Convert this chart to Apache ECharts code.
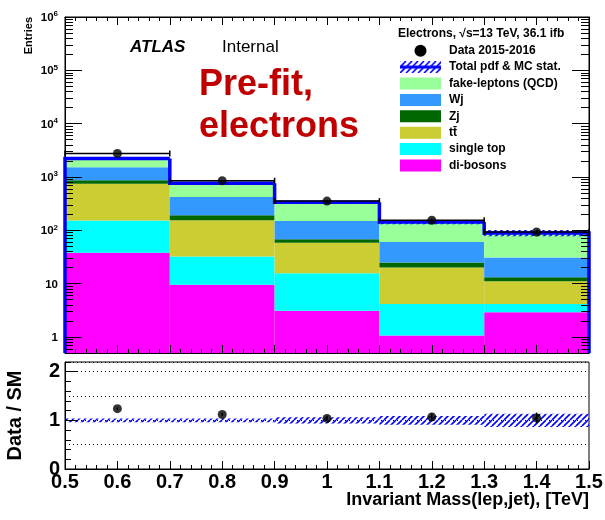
<!DOCTYPE html>
<html><head><meta charset="utf-8">
<script src="https://cdn.jsdelivr.net/npm/echarts@6/dist/echarts.min.js"></script>
<style>html,body{margin:0;padding:0;background:#fff}#c{width:605px;height:520px}</style>
</head><body><div id="c"></div>
<script>
// ---- data ----
const binEdges = [0.5, 0.7, 0.9, 1.1, 1.3, 1.5];
const binCenters = [0.6, 0.8, 1.0, 1.2, 1.4];
const diBosons = [38, 9.5, 3.1, 1.06, 2.9];
const singleTop = [114, 22.7, 12.6, 3.1, 1.24];
const ttbar = [594, 122, 43, 16, 6.9];
const zJets = [125, 37, 9, 4.8, 2.1];
const wJets = [654, 228, 81, 35.5, 17.8];
const fakeLeptons = [690, 340, 187, 82, 58];
const dataCounts = [2750, 850, 353, 154, 93];
const dataErr = [52, 29, 19, 12.4, 9.6];
const ratioValues = [1.24, 1.12, 1.04, 1.07, 1.05];
const ratioErr = [0.025, 0.035, 0.055, 0.08, 0.11];
const bandRelErr = [0.04, 0.04, 0.065, 0.09, 0.135];
const xTickLabels = [0.5, 0.6, 0.7, 0.8, 0.9, 1.0, 1.1, 1.2, 1.3, 1.4, 1.5];
const yTickLabels = [1, 10, 100, 1000, 10000, 100000, 1000000];
const ratioTickLabels = [0, 1, 2];

const YMIN = 0.5, YMAX = 1e6;
const FONT = "'Liberation Sans', Arial, Helvetica, sans-serif";

const components = [
  { name: 'di-bosons', values: diBosons, color: '#ff00ff' },
  { name: 'single top', values: singleTop, color: '#00ffff' },
  { name: 't\u0074\u0304', values: ttbar, color: '#cccc33' },
  { name: 'Zj', values: zJets, color: '#006600' },
  { name: 'Wj', values: wJets, color: '#3399ff' },
  { name: 'fake-leptons (QCD)', values: fakeLeptons, color: '#99ff99' }
];

// hatch pattern
function makeHatch(w, h, step, line) {
  const c = document.createElement('canvas');
  c.width = w; c.height = h;
  const g = c.getContext('2d');
  g.strokeStyle = '#0000ff'; g.lineWidth = 1.6;
  g.beginPath();
  for (let x = -h; x < w + h; x += step) { g.moveTo(x, h); g.lineTo(x + h, 0); }
  g.stroke();
  if (line) { g.strokeStyle = '#0000ff'; g.lineWidth = 3; g.beginPath(); g.moveTo(0, h / 2); g.lineTo(w, h / 2); g.stroke(); }
  return c;
}
const hatchCanvas = makeHatch(6, 6, 6, false);
const legendTotalIcon = makeHatch(41, 12, 6, true).toDataURL();

function rectItem(fill) {
  return function (params, api) {
    const p0 = api.coord([api.value(0), api.value(3)]);
    const p1 = api.coord([api.value(1), api.value(2)]);
    return { type: 'rect', shape: { x: p0[0], y: p0[1], width: p1[0] - p0[0], height: p1[1] - p0[1] }, style: { fill: fill } };
  };
}

const series = [];
let base = binCenters.map(() => 0);
components.forEach(comp => {
  const rows = comp.values.map((v, i) => [binEdges[i], binEdges[i + 1], Math.max(base[i], YMIN), base[i] + v]);
  base = base.map((b, i) => b + comp.values[i]);
  series.push({
    type: 'custom', name: comp.name, xAxisIndex: 0, yAxisIndex: 0, z: 1,
    itemStyle: { color: comp.color }, encode: { x: [0, 1], y: [2, 3] },
    renderItem: rectItem(comp.color), data: rows
  });
});
const totals = base;

// main hatched band
series.push({
  type: 'custom', name: 'Total pdf & MC stat.', xAxisIndex: 0, yAxisIndex: 0, z: 2,
  itemStyle: { color: '#0000ff' }, encode: { x: [0, 1], y: [2, 3] },
  renderItem: rectItem({ image: hatchCanvas, repeat: 'repeat' }),
  data: totals.map((t, i) => [binEdges[i], binEdges[i + 1], t * (1 - bandRelErr[i]), t * (1 + bandRelErr[i])])
});
// total outline
series.push({
  type: 'custom', name: 'Total pdf & MC stat.', xAxisIndex: 0, yAxisIndex: 0, z: 3,
  itemStyle: { color: '#0000ff' }, encode: { x: [0, 1], y: [2, 3] },
  renderItem: function (params, api) {
    const pts = [api.coord([api.value(0), api.value(3)]), api.coord([api.value(0), api.value(2)]), api.coord([api.value(1), api.value(2)])];
    if (params.dataIndex === totals.length - 1) pts.push(api.coord([api.value(1), YMIN]));
    return { type: 'polyline', shape: { points: pts }, style: { stroke: '#0000ff', lineWidth: 3.5, fill: null } };
  },
  data: totals.map((t, i) => [binEdges[i], binEdges[i + 1], t, i === 0 ? YMIN : totals[i - 1]])
});
// data error bars (main)
series.push({
  type: 'custom', name: 'Data 2015-2016', xAxisIndex: 0, yAxisIndex: 0, z: 4,
  itemStyle: { color: '#000' }, encode: { x: 0, y: 1 },
  renderItem: function (params, api) {
    const y = api.value(1);
    const l = api.coord([api.value(4), y]), r = api.coord([api.value(5), y]);
    const lo = api.coord([api.value(0), api.value(2)]), hi = api.coord([api.value(0), api.value(3)]);
    const st = { stroke: '#000', lineWidth: 1.5 };
    return { type: 'group', children: [
      { type: 'line', shape: { x1: l[0], y1: l[1], x2: r[0], y2: r[1] }, style: st },
      { type: 'line', shape: { x1: l[0], y1: l[1] - 3, x2: l[0], y2: l[1] + 3 }, style: st },
      { type: 'line', shape: { x1: r[0], y1: r[1] - 3, x2: r[0], y2: r[1] + 3 }, style: st },
      { type: 'line', shape: { x1: lo[0], y1: lo[1], x2: hi[0], y2: hi[1] }, style: st }
    ] };
  },
  data: dataCounts.map((d, i) => [binCenters[i], d, d - dataErr[i], d + dataErr[i], binEdges[i], binEdges[i + 1]])
});
series.push({
  type: 'scatter', name: 'Data 2015-2016', xAxisIndex: 0, yAxisIndex: 0, z: 5,
  symbol: 'circle', symbolSize: 9, itemStyle: { color: '#000' },
  data: dataCounts.map((d, i) => [binCenters[i], d])
});
// ratio band
series.push({
  type: 'custom', name: 'SM uncertainty', xAxisIndex: 1, yAxisIndex: 1, z: 2,
  encode: { x: [0, 1], y: [2, 3] },
  renderItem: rectItem({ image: hatchCanvas, repeat: 'repeat' }),
  data: bandRelErr.map((e, i) => [binEdges[i], binEdges[i + 1], 1 - e, 1 + e])
});
series.push({
  type: 'custom', name: 'Data / SM', xAxisIndex: 1, yAxisIndex: 1, z: 4,
  encode: { x: 0, y: 1 },
  renderItem: function (params, api) {
    const lo = api.coord([api.value(0), api.value(2)]), hi = api.coord([api.value(0), api.value(3)]);
    return { type: 'line', shape: { x1: lo[0], y1: lo[1], x2: hi[0], y2: hi[1] }, style: { stroke: '#000', lineWidth: 1.5 } };
  },
  data: ratioValues.map((r, i) => [binCenters[i], r, r - ratioErr[i], r + ratioErr[i]])
});
series.push({
  type: 'scatter', name: 'Data / SM', xAxisIndex: 1, yAxisIndex: 1, z: 5,
  symbol: 'circle', symbolSize: 9, itemStyle: { color: '#000' },
  data: ratioValues.map((r, i) => [binCenters[i], r])
});

const minorLog = [];
for (let k = -1; k <= 5; k++) for (let m = 2; m <= 9; m++) { const v = m * Math.pow(10, k); if (v > YMIN && v < YMAX) minorLog.push(v); }

const blk = { color: '#000', width: 1 };
function xAx(grid, pos, labels) {
  return {
    type: 'value', gridIndex: grid, position: pos, min: 0.5, max: 1.5, interval: 0.1, z: 10,
    axisLine: { show: true, onZero: false, lineStyle: blk },
    axisTick: { show: true, inside: true, length: 8, lineStyle: blk },
    minorTick: { show: true, splitNumber: 5, length: 4, lineStyle: blk },
    splitLine: { show: false },
    axisLabel: labels ? { show: true, customValues: xTickLabels, fontSize: 20, fontWeight: 'bold', color: '#000', fontFamily: FONT, margin: 3,
      formatter: v => String(Math.round(v * 10) / 10) } : { show: false }
  };
}
function logAx(pos, major, labels) {
  return {
    type: 'log', logBase: 10, gridIndex: 0, position: pos, min: YMIN, max: YMAX, z: 10,
    axisLine: { show: major, onZero: false, lineStyle: blk },
    axisTick: { show: true, inside: true, length: major ? 17 : 8, lineStyle: blk, customValues: major ? yTickLabels : minorLog },
    minorTick: { show: false }, splitLine: { show: false },
    axisLabel: labels ? {
      show: true, customValues: yTickLabels, margin: 7,
      formatter: v => { const e = Math.round(Math.log10(v)); if (e === 0) return '{n|1}'; if (e === 1) return '{n|10}'; return '{n|10}{s|' + e + '}'; },
      rich: {
        n: { fontSize: 11.5, fontWeight: 'bold', color: '#000', fontFamily: FONT, padding: [2, 0, 0, 0] },
        s: { fontSize: 8, fontWeight: 'bold', color: '#000', fontFamily: FONT, verticalAlign: 'top' }
      }
    } : { show: false }
  };
}

const option = {
  animation: false,
  backgroundColor: '#fff',
  grid: [
    { left: 65, top: 17, width: 524, height: 336, show: true, borderColor: '#000', borderWidth: 1, backgroundColor: 'transparent', outerBoundsMode: 'none' },
    { left: 65, top: 362, width: 524, height: 107, show: true, borderColor: '#000', borderWidth: 1, backgroundColor: 'transparent', outerBoundsMode: 'none' }
  ],
  xAxis: [xAx(0, 'bottom', false), xAx(1, 'bottom', true), xAx(0, 'top', false)],
  yAxis: [
    logAx('left', true, true),
    {
      type: 'value', gridIndex: 1, position: 'left', min: 0, max: 2.2, z: 10,
      axisLine: { show: true, onZero: false, lineStyle: blk },
      axisTick: { show: true, inside: true, length: 13, lineStyle: blk, customValues: ratioTickLabels },
      splitLine: { show: false },
      axisLabel: { show: true, customValues: ratioTickLabels, fontSize: 20, fontWeight: 'bold', color: '#000', fontFamily: FONT, margin: 5 }
    },
    logAx('left', false, false),
    logAx('right', true, false),
    logAx('right', false, false),
    {
      type: 'value', gridIndex: 1, position: 'left', min: 0, max: 2.2, interval: 0.2, z: 10,
      axisLine: { show: false }, axisTick: { show: true, inside: true, length: 6, lineStyle: blk },
      splitLine: { show: false }, axisLabel: { show: false }
    },
    {
      type: 'value', gridIndex: 1, position: 'left', min: 0, max: 2.2, interval: 0.5, z: 1,
      axisLine: { show: false }, axisTick: { show: false }, axisLabel: { show: false },
      splitLine: { show: true, lineStyle: { type: [1, 3], color: '#000', width: 1 } }
    }
  ],
  legend: {
    orient: 'vertical', left: 400, top: 44.7, padding: 0,
    itemWidth: 41, itemHeight: 12, itemGap: 4.4, selectedMode: false,
    textStyle: { fontSize: 12, fontWeight: 'bold', color: '#000', fontFamily: FONT, padding: [0, 0, 0, 3] },
    data: [
      { name: 'Data 2015-2016', icon: 'circle' },
      { name: 'Total pdf & MC stat.', icon: 'image://' + legendTotalIcon },
      { name: 'fake-leptons (QCD)', icon: 'rect' },
      { name: 'Wj', icon: 'rect' },
      { name: 'Zj', icon: 'rect' },
      { name: 't\u0074\u0304', icon: 'rect' },
      { name: 'single top', icon: 'rect' },
      { name: 'di-bosons', icon: 'rect' }
    ]
  },
  graphic: [
    { type: 'text', z: 100, x: 398, y: 34, style: { text: 'Electrons, \u221As=13 TeV, 36.1 ifb', fontSize: 12, fontWeight: 'bold', fontFamily: FONT, fill: '#000', verticalAlign: 'middle' } },
    { type: 'text', z: 100, x: 130, y: 47, style: { text: 'ATLAS', fontSize: 17, fontWeight: 'bold', fontStyle: 'italic', fontFamily: FONT, fill: '#000', verticalAlign: 'middle' } },
    { type: 'text', z: 100, x: 222, y: 47, style: { text: 'Internal', fontSize: 17, fontFamily: FONT, fill: '#000', verticalAlign: 'middle' } },
    { type: 'text', z: 100, x: 199, y: 85, style: { text: 'Pre-fit,', fontSize: 36, fontWeight: 'bold', fontFamily: FONT, fill: '#c00000', verticalAlign: 'middle' } },
    { type: 'text', z: 100, x: 199, y: 127, style: { text: 'electrons', fontSize: 36, fontWeight: 'bold', fontFamily: FONT, fill: '#c00000', verticalAlign: 'middle' } },
    { type: 'text', z: 100, x: 29, y: 17, rotation: Math.PI / 2, style: { text: 'Entries', fontSize: 11, fontWeight: 'bold', fontFamily: FONT, fill: '#000', align: 'right', verticalAlign: 'middle' } },
    { type: 'text', z: 100, x: 15, y: 415.5, rotation: Math.PI / 2, style: { text: 'Data / SM', fontSize: 20, fontWeight: 'bold', fontFamily: FONT, fill: '#000', align: 'center', verticalAlign: 'middle' } },
    { type: 'text', z: 100, x: 589, y: 500, style: { text: 'Invariant Mass(lep,jet), [TeV]', fontSize: 18, fontWeight: 'bold', fontFamily: FONT, fill: '#000', align: 'right', verticalAlign: 'middle' } }
  ],
  series: series
};
const chart = echarts.init(document.getElementById('c'));
chart.setOption(option);
</script></body></html>
